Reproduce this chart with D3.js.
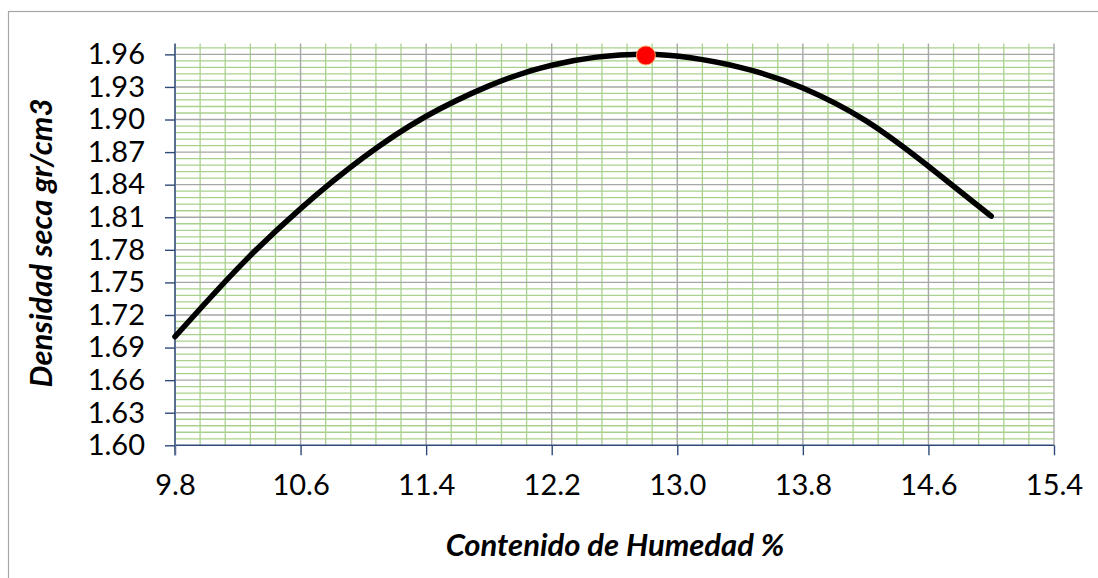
<!DOCTYPE html>
<html><head><meta charset="utf-8">
<script src="https://cdn.jsdelivr.net/npm/d3@7"></script>
<style>
html,body{margin:0;padding:0;background:#fff;}
svg{display:block;font-family:Lato,"Open Sans",sans-serif;}
</style></head>
<body>
<svg id="chart" width="1098" height="578"></svg>
<script>
// Curve samples (moisture %, dry density)
const humedad = [9.80, 10.20, 10.60, 11.00, 11.40, 11.80, 12.20, 12.80, 13.40, 13.80, 14.20, 14.60, 15.00];
const densidad = [1.700, 1.763, 1.818, 1.865, 1.903, 1.931, 1.950, 1.960, 1.948, 1.929, 1.899, 1.857, 1.811];
// Optimum point
const optimoX = [12.8];
const optimoY = [1.959];
// Axis ticks
const xTicks = [9.8, 10.6, 11.4, 12.2, 13.0, 13.8, 14.6, 15.4];
const yTicks = [1.60, 1.63, 1.66, 1.69, 1.72, 1.75, 1.78, 1.81, 1.84, 1.87, 1.90, 1.93, 1.96];
const xTitle = ["Contenido de Humedad %"];
const yTitle = ["Densidad seca gr/cm3"];

(function () {
const svg = d3.select("#chart");
const pL = 175, pR = 1054, pT = 43.5, pB = 445.3;
const x = d3.scaleLinear().domain([9.8, 15.4]).range([pL, pR]);
const y = d3.scaleLinear().domain([1.60, 1.97]).range([pB, pT]);

// chart border
svg.append("rect").attr("x", 8.5).attr("y", 11.5).attr("width", 1200).attr("height", 700)
  .attr("fill", "none").attr("stroke", "#A6A6A6").attr("stroke-width", 1.2);

// minor gridlines
const xMinor = d3.range(0, 36).map(i => 9.8 + i * 0.16).filter((v, i) => i % 5 !== 0);
const yMinor = d3.range(0, 62).map(i => 1.60 + i * 0.006).filter((v, i) => i % 5 !== 0 && v <= 1.9701);
const g = svg.append("g");
g.selectAll(".vmin").data(xMinor).join("line")
  .attr("x1", d => x(d)).attr("x2", d => x(d)).attr("y1", pT).attr("y2", pB)
  .attr("stroke", "#A9D18E").attr("stroke-width", 1.3);
g.selectAll(".hmin").data(yMinor).join("line")
  .attr("x1", pL).attr("x2", pR).attr("y1", d => y(d)).attr("y2", d => y(d))
  .attr("stroke", "#A9D18E").attr("stroke-width", 1.3);
// major gridlines
g.selectAll(".vmaj").data(xTicks.slice(1)).join("line")
  .attr("x1", d => x(d)).attr("x2", d => x(d)).attr("y1", pT).attr("y2", pB)
  .attr("stroke", "#A6A6A6").attr("stroke-width", 1.4);
g.selectAll(".hmaj").data(yTicks.slice(1)).join("line")
  .attr("x1", pL).attr("x2", pR).attr("y1", d => y(d)).attr("y2", d => y(d))
  .attr("stroke", "#A6A6A6").attr("stroke-width", 1.4);

// axes
const xAxis = d3.axisBottom(x).tickValues(xTicks).tickFormat(d3.format(".1f")).tickSize(10).tickPadding(19);
const yAxis = d3.axisLeft(y).tickValues(yTicks).tickFormat(d3.format(".2f")).tickSize(10).tickPadding(20);
const gx = svg.append("g").attr("transform", `translate(0,${pB})`).call(xAxis);
gx.select(".domain").attr("d", `M${pL},0H${pR}`).attr("stroke", "#2F4A7A").attr("stroke-width", 1.4);
gx.selectAll(".tick line").attr("stroke", "#2F4A7A").attr("stroke-width", 1.4);
gx.selectAll(".tick text").attr("font-size", 29).attr("fill", "#000").attr("font-family", "Lato");
const gy = svg.append("g").attr("transform", `translate(${pL},0)`).call(yAxis);
gy.select(".domain").attr("d", `M0,${pT}V${pB + 10}`).attr("stroke", "#5A6E92").attr("stroke-width", 2);
gy.selectAll(".tick line").attr("stroke", "#2F4A7A").attr("stroke-width", 1.4);
gy.selectAll(".tick text").attr("font-size", 29).attr("fill", "#000").attr("font-family", "Lato");

// curve
const pts = humedad.map((h, i) => [h, densidad[i]]);
svg.append("path").datum(pts)
  .attr("d", d3.line().x(d => x(d[0])).y(d => y(d[1])).curve(d3.curveNatural))
  .attr("fill", "none").attr("stroke", "#000").attr("stroke-width", 5.5).attr("stroke-linecap", "round");

// optimum dot
svg.selectAll(".opt").data(optimoX).join("circle")
  .attr("cx", d => x(d)).attr("cy", (d, i) => y(optimoY[i])).attr("r", 9.5)
  .attr("fill", "#FF0000").attr("stroke", "#F4A460").attr("stroke-width", 1);

// titles
svg.append("text").attr("x", 615).attr("y", 556).attr("text-anchor", "middle")
  .attr("font-size", 31).attr("font-weight", "bold").attr("font-style", "italic").text(xTitle[0]);
svg.append("text").attr("transform", "translate(52,243) rotate(-90)").attr("text-anchor", "middle")
  .attr("font-size", 31).attr("font-weight", "bold").attr("font-style", "italic").text(yTitle[0]);
})();
</script>
</body></html>
